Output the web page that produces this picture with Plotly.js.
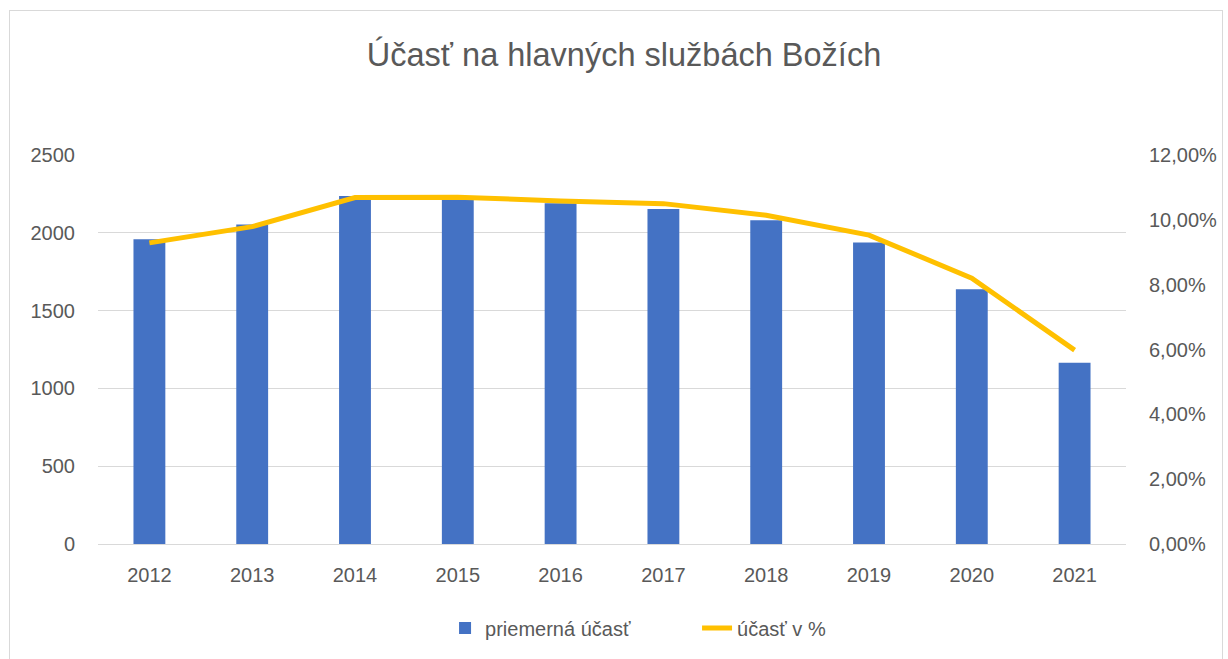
<!DOCTYPE html>
<html>
<head>
<meta charset="utf-8">
<script src="https://cdn.plot.ly/plotly-3.0.1.min.js"></script>
<style>
  html, body { margin: 0; padding: 0; background: #fff; }
  #wrap { position: relative; width: 1228px; height: 659px; overflow: hidden; }
  #chart { position: absolute; left: 0; top: 0; width: 1228px; height: 659px; }
  #frame { position: absolute; left: 9px; top: 10px; width: 1212px; height: 700px; border: 1px solid #d9d9d9; pointer-events: none; }
</style>
</head>
<body>
<div id="wrap">
  <div id="chart"></div>
  <div id="frame"></div>
</div>
<script>
const years = ["2012","2013","2014","2015","2016","2017","2018","2019","2020","2021"];
const avgAttendance = [1958, 2054, 2237, 2222, 2190, 2153, 2080, 1938, 1637, 1165];
const attendancePct = [0.0929, 0.0979, 0.1069, 0.1070, 0.1058, 0.1050, 0.1014, 0.0953, 0.0820, 0.0598];

const titleText = "Účasť na hlavných službách Božích";
const barName = "priemerná účasť";
const lineName = "účasť v %";

const font = "Liberation Sans, Arial, sans-serif";
const grey = "#595959";

const traces = [
  {
    type: "bar",
    x: years,
    y: avgAttendance,
    name: barName,
    marker: { color: "#4472C4" },
    yaxis: "y"
  },
  {
    type: "scatter",
    mode: "lines",
    x: years,
    y: attendancePct,
    name: lineName,
    line: { color: "#FFC000", width: 5 },
    yaxis: "y2"
  }
];

const layout = {
  width: 1228,
  height: 659,
  margin: { l: 98, r: 102, t: 155, b: 115 },
  paper_bgcolor: "rgba(0,0,0,0)",
  plot_bgcolor: "rgba(0,0,0,0)",
  separators: ",.",
  font: { family: font, size: 20, color: grey },
  title: {
    text: titleText,
    font: { family: font, size: 32.5, color: grey },
    x: 0.5117, xref: "paper", xanchor: "center",
    y: 0.917, yref: "container", yanchor: "middle"
  },
  bargap: 0.69,
  showlegend: true,
  legend: {
    orientation: "h",
    x: 0.3376, xanchor: "left",
    y: -0.216, yanchor: "middle",
    font: { family: font, size: 20, color: grey },
    traceorder: "normal",
    entrywidth: 207,
    entrywidthmode: "pixels"
  },
  xaxis: {
    type: "category",
    showgrid: false,
    showline: false,
    ticks: "",
    ticklabelstandoff: 17,
    tickfont: { family: font, size: 20, color: grey },
    fixedrange: true
  },
  yaxis: {
    range: [0, 2500],
    dtick: 500,
    tick0: 0,
    showgrid: true,
    gridcolor: "#d9d9d9",
    gridwidth: 1,
    zeroline: true,
    zerolinecolor: "#d9d9d9",
    zerolinewidth: 1,
    showline: false,
    ticks: "",
    ticklabelstandoff: 22,
    tickfont: { family: font, size: 20, color: grey },
    fixedrange: true
  },
  yaxis2: {
    range: [0, 0.12],
    dtick: 0.02,
    tick0: 0,
    tickformat: ".2%",
    overlaying: "y",
    side: "right",
    showgrid: false,
    zeroline: false,
    showline: false,
    ticks: "",
    ticklabelstandoff: 22,
    tickfont: { family: font, size: 20, color: grey },
    fixedrange: true
  }
};

Plotly.newPlot("chart", traces, layout, { displayModeBar: false, staticPlot: true });
</script>
</body>
</html>
